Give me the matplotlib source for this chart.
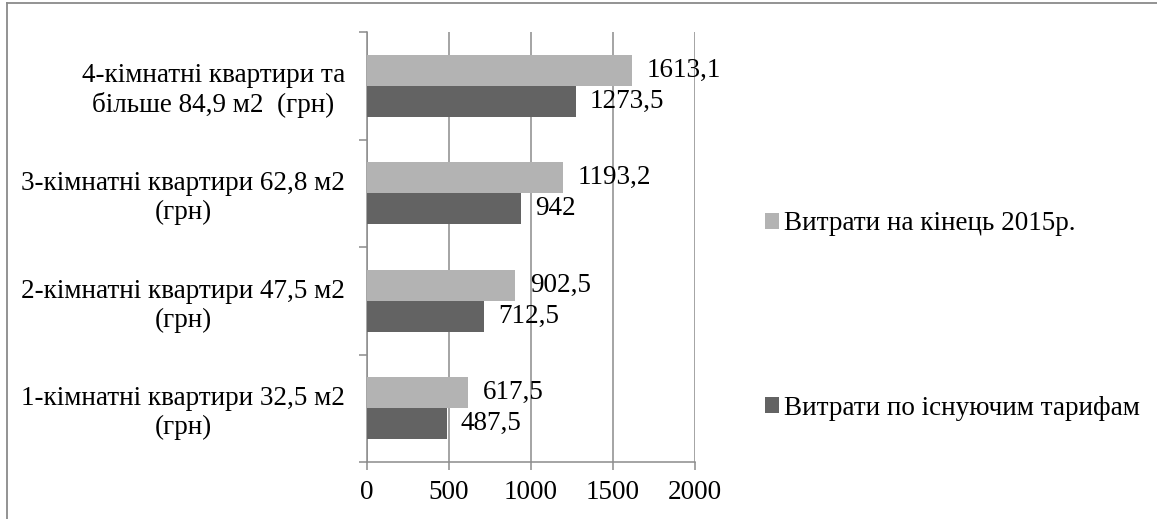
import matplotlib
matplotlib.use("Agg")
import matplotlib.pyplot as plt
from matplotlib.lines import Line2D
from matplotlib.patches import Patch
import numpy as np

plt.rcParams['font.family'] = ['Liberation Serif', 'DejaVu Serif']

categories = [
    "1-кімнатні квартири 32,5 м2\n(грн)",
    "2-кімнатні квартири 47,5 м2\n(грн)",
    "3-кімнатні квартири 62,8 м2\n(грн)",
    "4-кімнатні квартири та\nбільше 84,9 м2  (грн)",
]
series_names = ["Витрати на кінець 2015р.", "Витрати по існуючим тарифам"]
end_2015 = [617.5, 902.5, 1193.2, 1613.1]
current = [487.5, 712.5, 942, 1273.5]
end_2015_labels = ["617,5", "902,5", "1193,2", "1613,1"]
current_labels = ["487,5", "712,5", "942", "1273,5"]
x_ticks = [0, 500, 1000, 1500, 2000]

light = "#b3b3b3"
dark = "#636363"
grid_c = "#8c8c8c"
fs = 19.5

fig = plt.figure(figsize=(11.57, 5.19), dpi=100)
ax = fig.add_axes([367 / 1157, 57 / 519, 328 / 1157, 430 / 519])

y = np.arange(len(categories))
h = 0.29
ax.barh(y + h / 2, end_2015, height=h, color=light, zorder=3)
ax.barh(y - h / 2, current, height=h, color=dark, zorder=3)

for yi, v, s in zip(y, end_2015, end_2015_labels):
    ax.annotate(s, (v, yi + h / 2), xytext=(15, 0), textcoords="offset pixels",
                ha="left", va="center", fontsize=fs, zorder=4)
for yi, v, s in zip(y, current, current_labels):
    ax.annotate(s, (v, yi - h / 2), xytext=(14, 0), textcoords="offset pixels",
                ha="left", va="center", fontsize=fs, zorder=4)

ax.set_xlim(0, 2000)
ax.set_ylim(-0.5, len(categories) - 0.5)
ax.set_xticks(x_ticks)
ax.set_xticklabels([str(t) for t in x_ticks], fontsize=fs)
ax.xaxis.grid(True, color=grid_c, linewidth=1.1, zorder=0)

ax.set_yticks(y)
ax.set_yticklabels(categories, fontsize=fs, multialignment="center")
ax.set_yticks(np.arange(-0.5, len(categories)), minor=True)
ax.tick_params(axis="y", which="major", length=0, pad=22 * 0.72)
ax.tick_params(axis="y", which="minor", length=6, width=1.1, color=grid_c)
ax.tick_params(axis="x", length=6, width=1.1, color=grid_c, pad=7)

for side in ["top", "right"]:
    ax.spines[side].set_visible(False)
for side in ["left", "bottom"]:
    ax.spines[side].set_color(grid_c)
    ax.spines[side].set_linewidth(1.1)

handles = [Patch(facecolor=light), Patch(facecolor=dark)]
fig.legend(handles, series_names, loc="center left",
           bbox_to_anchor=(765 / 1157, 1 - 316 / 519), frameon=False,
           fontsize=fs, handlelength=0.52, handleheight=0.52,
           handletextpad=0.2, labelspacing=5.88, borderpad=0, borderaxespad=0)

# outer chart frame
fig.add_artist(Line2D([6.5 / 1157, 6.5 / 1157], [0, 1 - 3 / 519],
                      transform=fig.transFigure, color="#8a8a8a", linewidth=1.3))
fig.add_artist(Line2D([6.5 / 1157, 1], [1 - 3 / 519, 1 - 3 / 519],
                      transform=fig.transFigure, color="#8a8a8a", linewidth=1.3))

fig.savefig("out.png", dpi=100)
